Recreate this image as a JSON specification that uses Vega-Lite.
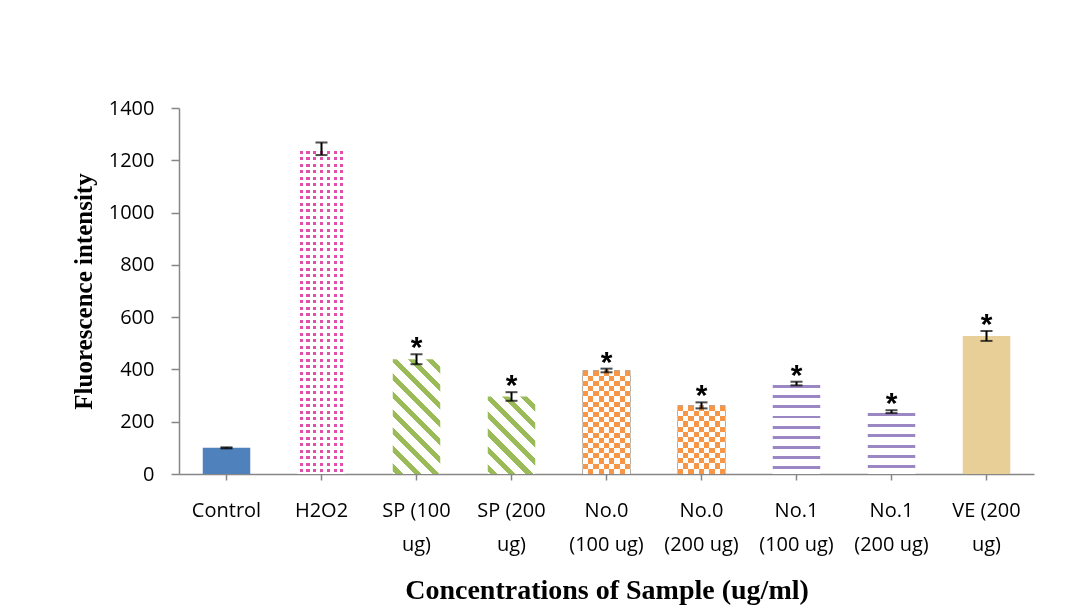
{
  "$schema": "https://vega.github.io/schema/vega-lite/v6.json",
  "width": 855,
  "height": 366,
  "autosize": {"type": "none"},
  "padding": {"left": 179, "top": 108, "right": 51, "bottom": 141},
  "background": "white",
  "config": {"view": {"stroke": null}, "font": "Open Sans"},
  "data": {
    "values": [
      {"cat": "Control", "value": 100, "lo": 98, "hi": 102, "sig": ""},
      {"cat": "H2O2", "value": 1243, "lo": 1220, "hi": 1268, "sig": ""},
      {"cat": "SP (100|ug)", "value": 439, "lo": 420, "hi": 458, "sig": "*"},
      {"cat": "SP (200|ug)", "value": 296, "lo": 280, "hi": 313, "sig": "*"},
      {"cat": "No.0|(100 ug)", "value": 396, "lo": 389, "hi": 403, "sig": "*"},
      {"cat": "No.0|(200 ug)", "value": 262, "lo": 251, "hi": 274, "sig": "*"},
      {"cat": "No.1|(100 ug)", "value": 346, "lo": 339, "hi": 353, "sig": "*"},
      {"cat": "No.1|(200 ug)", "value": 239, "lo": 233, "hi": 244, "sig": "*"},
      {"cat": "VE (200|ug)", "value": 528, "lo": 509, "hi": 547, "sig": "*"}
    ]
  },
  "encoding": {
    "x": {
      "field": "cat",
      "type": "nominal",
      "sort": null,
      "scale": {"paddingInner": 0.5, "paddingOuter": 0.25},
      "axis": {
        "title": "Concentrations of Sample (ug/ml)",
        "titleFont": "Liberation Serif",
        "titleFontSize": 28,
        "titleFontWeight": "bold",
        "titleColor": "#000",
        "titlePadding": 22,
        "labelExpr": "split(datum.value, '|')",
        "labelFont": "Open Sans",
        "labelFontSize": 20,
        "labelColor": "#000",
        "labelAngle": 0,
        "labelPadding": 20,
        "labelLineHeight": 34,
        "labelLimit": 300,
        "labelOverlap": false,
        "domainColor": "#868686",
        "domainWidth": 1.5,
        "tickColor": "#868686",
        "tickSize": 6,
        "tickWidth": 1.5
      }
    },
    "y": {
      "field": "value",
      "type": "quantitative",
      "scale": {"domain": [0, 1400]},
      "axis": {
        "title": "Fluorescence intensity",
        "titleFont": "Liberation Serif",
        "titleFontSize": 25,
        "titleFontWeight": "bold",
        "titleColor": "#000",
        "titlePadding": 12,
        "values": [0, 200, 400, 600, 800, 1000, 1200, 1400],
        "format": "d",
        "labelFont": "Open Sans",
        "labelFontSize": 20,
        "labelColor": "#000",
        "labelPadding": 17,
        "labelFlush": false,
        "domainColor": "#868686",
        "domainWidth": 1.5,
        "tickColor": "#868686",
        "tickSize": 8,
        "tickWidth": 1.5,
        "grid": false
      }
    }
  },
  "layer": [
    {
      "transform": [{"filter": {"field": "cat", "equal": "Control"}}],
      "mark": {"type": "bar", "fill": "#4f81bd"}
    },
    {
      "transform": [{"filter": {"field": "cat", "equal": "H2O2"}}],
      "mark": {
        "type": "bar",
        "fill": {
          "gradient": "linear", "x1": 0, "y1": 0, "x2": 1, "y2": 0,
          "stops": [
            {"offset": 0.04, "color": "#fff"}, {"offset": 0.04, "color": "#e050ab"}, {"offset": 0.105, "color": "#e050ab"}, {"offset": 0.105, "color": "#fff"},
            {"offset": 0.1829, "color": "#fff"}, {"offset": 0.1829, "color": "#e050ab"}, {"offset": 0.2479, "color": "#e050ab"}, {"offset": 0.2479, "color": "#fff"},
            {"offset": 0.3257, "color": "#fff"}, {"offset": 0.3257, "color": "#e050ab"}, {"offset": 0.3907, "color": "#e050ab"}, {"offset": 0.3907, "color": "#fff"},
            {"offset": 0.4686, "color": "#fff"}, {"offset": 0.4686, "color": "#e050ab"}, {"offset": 0.5336, "color": "#e050ab"}, {"offset": 0.5336, "color": "#fff"},
            {"offset": 0.6114, "color": "#fff"}, {"offset": 0.6114, "color": "#e050ab"}, {"offset": 0.6764, "color": "#e050ab"}, {"offset": 0.6764, "color": "#fff"},
            {"offset": 0.7543, "color": "#fff"}, {"offset": 0.7543, "color": "#e050ab"}, {"offset": 0.8193, "color": "#e050ab"}, {"offset": 0.8193, "color": "#fff"},
            {"offset": 0.8971, "color": "#fff"}, {"offset": 0.8971, "color": "#e050ab"}, {"offset": 0.9621, "color": "#e050ab"}, {"offset": 0.9621, "color": "#fff"}
          ]
        }
      }
    },
    {
      "transform": [{"filter": {"field": "cat", "equal": "H2O2"}}],
      "mark": {
        "type": "bar",
        "fill": {
          "gradient": "linear", "x1": 0, "y1": 0, "x2": 0, "y2": 1,
          "stops": [
            {"offset": 0.005, "color": "#fff"}, {"offset": 0.005, "color": "transparent"}, {"offset": 0.015, "color": "transparent"}, {"offset": 0.015, "color": "#fff"},
            {"offset": 0.025, "color": "#fff"}, {"offset": 0.025, "color": "transparent"}, {"offset": 0.035, "color": "transparent"}, {"offset": 0.035, "color": "#fff"},
            {"offset": 0.045, "color": "#fff"}, {"offset": 0.045, "color": "transparent"}, {"offset": 0.055, "color": "transparent"}, {"offset": 0.055, "color": "#fff"},
            {"offset": 0.065, "color": "#fff"}, {"offset": 0.065, "color": "transparent"}, {"offset": 0.075, "color": "transparent"}, {"offset": 0.075, "color": "#fff"},
            {"offset": 0.085, "color": "#fff"}, {"offset": 0.085, "color": "transparent"}, {"offset": 0.095, "color": "transparent"}, {"offset": 0.095, "color": "#fff"},
            {"offset": 0.105, "color": "#fff"}, {"offset": 0.105, "color": "transparent"}, {"offset": 0.115, "color": "transparent"}, {"offset": 0.115, "color": "#fff"},
            {"offset": 0.125, "color": "#fff"}, {"offset": 0.125, "color": "transparent"}, {"offset": 0.135, "color": "transparent"}, {"offset": 0.135, "color": "#fff"},
            {"offset": 0.145, "color": "#fff"}, {"offset": 0.145, "color": "transparent"}, {"offset": 0.155, "color": "transparent"}, {"offset": 0.155, "color": "#fff"},
            {"offset": 0.165, "color": "#fff"}, {"offset": 0.165, "color": "transparent"}, {"offset": 0.175, "color": "transparent"}, {"offset": 0.175, "color": "#fff"},
            {"offset": 0.185, "color": "#fff"}, {"offset": 0.185, "color": "transparent"}, {"offset": 0.195, "color": "transparent"}, {"offset": 0.195, "color": "#fff"},
            {"offset": 0.205, "color": "#fff"}, {"offset": 0.205, "color": "transparent"}, {"offset": 0.215, "color": "transparent"}, {"offset": 0.215, "color": "#fff"},
            {"offset": 0.225, "color": "#fff"}, {"offset": 0.225, "color": "transparent"}, {"offset": 0.235, "color": "transparent"}, {"offset": 0.235, "color": "#fff"},
            {"offset": 0.245, "color": "#fff"}, {"offset": 0.245, "color": "transparent"}, {"offset": 0.255, "color": "transparent"}, {"offset": 0.255, "color": "#fff"},
            {"offset": 0.265, "color": "#fff"}, {"offset": 0.265, "color": "transparent"}, {"offset": 0.275, "color": "transparent"}, {"offset": 0.275, "color": "#fff"},
            {"offset": 0.285, "color": "#fff"}, {"offset": 0.285, "color": "transparent"}, {"offset": 0.295, "color": "transparent"}, {"offset": 0.295, "color": "#fff"},
            {"offset": 0.305, "color": "#fff"}, {"offset": 0.305, "color": "transparent"}, {"offset": 0.315, "color": "transparent"}, {"offset": 0.315, "color": "#fff"},
            {"offset": 0.325, "color": "#fff"}, {"offset": 0.325, "color": "transparent"}, {"offset": 0.335, "color": "transparent"}, {"offset": 0.335, "color": "#fff"},
            {"offset": 0.345, "color": "#fff"}, {"offset": 0.345, "color": "transparent"}, {"offset": 0.355, "color": "transparent"}, {"offset": 0.355, "color": "#fff"},
            {"offset": 0.365, "color": "#fff"}, {"offset": 0.365, "color": "transparent"}, {"offset": 0.375, "color": "transparent"}, {"offset": 0.375, "color": "#fff"},
            {"offset": 0.385, "color": "#fff"}, {"offset": 0.385, "color": "transparent"}, {"offset": 0.395, "color": "transparent"}, {"offset": 0.395, "color": "#fff"},
            {"offset": 0.405, "color": "#fff"}, {"offset": 0.405, "color": "transparent"}, {"offset": 0.415, "color": "transparent"}, {"offset": 0.415, "color": "#fff"},
            {"offset": 0.425, "color": "#fff"}, {"offset": 0.425, "color": "transparent"}, {"offset": 0.435, "color": "transparent"}, {"offset": 0.435, "color": "#fff"},
            {"offset": 0.445, "color": "#fff"}, {"offset": 0.445, "color": "transparent"}, {"offset": 0.455, "color": "transparent"}, {"offset": 0.455, "color": "#fff"},
            {"offset": 0.465, "color": "#fff"}, {"offset": 0.465, "color": "transparent"}, {"offset": 0.475, "color": "transparent"}, {"offset": 0.475, "color": "#fff"},
            {"offset": 0.485, "color": "#fff"}, {"offset": 0.485, "color": "transparent"}, {"offset": 0.495, "color": "transparent"}, {"offset": 0.495, "color": "#fff"},
            {"offset": 0.505, "color": "#fff"}, {"offset": 0.505, "color": "transparent"}, {"offset": 0.515, "color": "transparent"}, {"offset": 0.515, "color": "#fff"},
            {"offset": 0.525, "color": "#fff"}, {"offset": 0.525, "color": "transparent"}, {"offset": 0.535, "color": "transparent"}, {"offset": 0.535, "color": "#fff"},
            {"offset": 0.545, "color": "#fff"}, {"offset": 0.545, "color": "transparent"}, {"offset": 0.555, "color": "transparent"}, {"offset": 0.555, "color": "#fff"},
            {"offset": 0.565, "color": "#fff"}, {"offset": 0.565, "color": "transparent"}, {"offset": 0.575, "color": "transparent"}, {"offset": 0.575, "color": "#fff"},
            {"offset": 0.585, "color": "#fff"}, {"offset": 0.585, "color": "transparent"}, {"offset": 0.595, "color": "transparent"}, {"offset": 0.595, "color": "#fff"},
            {"offset": 0.605, "color": "#fff"}, {"offset": 0.605, "color": "transparent"}, {"offset": 0.615, "color": "transparent"}, {"offset": 0.615, "color": "#fff"},
            {"offset": 0.625, "color": "#fff"}, {"offset": 0.625, "color": "transparent"}, {"offset": 0.635, "color": "transparent"}, {"offset": 0.635, "color": "#fff"},
            {"offset": 0.645, "color": "#fff"}, {"offset": 0.645, "color": "transparent"}, {"offset": 0.655, "color": "transparent"}, {"offset": 0.655, "color": "#fff"},
            {"offset": 0.665, "color": "#fff"}, {"offset": 0.665, "color": "transparent"}, {"offset": 0.675, "color": "transparent"}, {"offset": 0.675, "color": "#fff"},
            {"offset": 0.685, "color": "#fff"}, {"offset": 0.685, "color": "transparent"}, {"offset": 0.695, "color": "transparent"}, {"offset": 0.695, "color": "#fff"},
            {"offset": 0.705, "color": "#fff"}, {"offset": 0.705, "color": "transparent"}, {"offset": 0.715, "color": "transparent"}, {"offset": 0.715, "color": "#fff"},
            {"offset": 0.725, "color": "#fff"}, {"offset": 0.725, "color": "transparent"}, {"offset": 0.735, "color": "transparent"}, {"offset": 0.735, "color": "#fff"},
            {"offset": 0.745, "color": "#fff"}, {"offset": 0.745, "color": "transparent"}, {"offset": 0.755, "color": "transparent"}, {"offset": 0.755, "color": "#fff"},
            {"offset": 0.765, "color": "#fff"}, {"offset": 0.765, "color": "transparent"}, {"offset": 0.775, "color": "transparent"}, {"offset": 0.775, "color": "#fff"},
            {"offset": 0.785, "color": "#fff"}, {"offset": 0.785, "color": "transparent"}, {"offset": 0.795, "color": "transparent"}, {"offset": 0.795, "color": "#fff"},
            {"offset": 0.805, "color": "#fff"}, {"offset": 0.805, "color": "transparent"}, {"offset": 0.815, "color": "transparent"}, {"offset": 0.815, "color": "#fff"},
            {"offset": 0.825, "color": "#fff"}, {"offset": 0.825, "color": "transparent"}, {"offset": 0.835, "color": "transparent"}, {"offset": 0.835, "color": "#fff"},
            {"offset": 0.845, "color": "#fff"}, {"offset": 0.845, "color": "transparent"}, {"offset": 0.855, "color": "transparent"}, {"offset": 0.855, "color": "#fff"},
            {"offset": 0.865, "color": "#fff"}, {"offset": 0.865, "color": "transparent"}, {"offset": 0.875, "color": "transparent"}, {"offset": 0.875, "color": "#fff"},
            {"offset": 0.885, "color": "#fff"}, {"offset": 0.885, "color": "transparent"}, {"offset": 0.895, "color": "transparent"}, {"offset": 0.895, "color": "#fff"},
            {"offset": 0.905, "color": "#fff"}, {"offset": 0.905, "color": "transparent"}, {"offset": 0.915, "color": "transparent"}, {"offset": 0.915, "color": "#fff"},
            {"offset": 0.925, "color": "#fff"}, {"offset": 0.925, "color": "transparent"}, {"offset": 0.935, "color": "transparent"}, {"offset": 0.935, "color": "#fff"},
            {"offset": 0.945, "color": "#fff"}, {"offset": 0.945, "color": "transparent"}, {"offset": 0.955, "color": "transparent"}, {"offset": 0.955, "color": "#fff"},
            {"offset": 0.965, "color": "#fff"}, {"offset": 0.965, "color": "transparent"}, {"offset": 0.975, "color": "transparent"}, {"offset": 0.975, "color": "#fff"},
            {"offset": 0.985, "color": "#fff"}, {"offset": 0.985, "color": "transparent"}, {"offset": 0.995, "color": "transparent"}, {"offset": 0.995, "color": "#fff"}
          ]
        }
      }
    },
    {
      "transform": [{"filter": {"field": "cat", "equal": "SP (100|ug)"}}],
      "mark": {
        "type": "bar",
        "fill": {
          "gradient": "linear", "x1": 0, "y1": 1, "x2": 0.4995, "y2": -0.2071,
          "stops": [
            {"offset": 0.02, "color": "#fff"}, {"offset": 0.02, "color": "#9bbb59"}, {"offset": 0.065, "color": "#9bbb59"}, {"offset": 0.065, "color": "#fff"},
            {"offset": 0.1311, "color": "#fff"}, {"offset": 0.1311, "color": "#9bbb59"}, {"offset": 0.1761, "color": "#9bbb59"}, {"offset": 0.1761, "color": "#fff"},
            {"offset": 0.2422, "color": "#fff"}, {"offset": 0.2422, "color": "#9bbb59"}, {"offset": 0.2872, "color": "#9bbb59"}, {"offset": 0.2872, "color": "#fff"},
            {"offset": 0.3533, "color": "#fff"}, {"offset": 0.3533, "color": "#9bbb59"}, {"offset": 0.3983, "color": "#9bbb59"}, {"offset": 0.3983, "color": "#fff"},
            {"offset": 0.4644, "color": "#fff"}, {"offset": 0.4644, "color": "#9bbb59"}, {"offset": 0.5094, "color": "#9bbb59"}, {"offset": 0.5094, "color": "#fff"},
            {"offset": 0.5756, "color": "#fff"}, {"offset": 0.5756, "color": "#9bbb59"}, {"offset": 0.6206, "color": "#9bbb59"}, {"offset": 0.6206, "color": "#fff"},
            {"offset": 0.6867, "color": "#fff"}, {"offset": 0.6867, "color": "#9bbb59"}, {"offset": 0.7317, "color": "#9bbb59"}, {"offset": 0.7317, "color": "#fff"},
            {"offset": 0.7978, "color": "#fff"}, {"offset": 0.7978, "color": "#9bbb59"}, {"offset": 0.8428, "color": "#9bbb59"}, {"offset": 0.8428, "color": "#fff"},
            {"offset": 0.9089, "color": "#fff"}, {"offset": 0.9089, "color": "#9bbb59"}, {"offset": 0.9539, "color": "#9bbb59"}, {"offset": 0.9539, "color": "#fff"}
          ]
        }
      }
    },
    {
      "transform": [{"filter": {"field": "cat", "equal": "SP (200|ug)"}}],
      "mark": {
        "type": "bar",
        "fill": {
          "gradient": "linear", "x1": 0, "y1": 1, "x2": 0.7194, "y2": -0.1722,
          "stops": [
            {"offset": 0.02, "color": "#fff"}, {"offset": 0.02, "color": "#9bbb59"}, {"offset": 0.077, "color": "#9bbb59"}, {"offset": 0.077, "color": "#fff"},
            {"offset": 0.1629, "color": "#fff"}, {"offset": 0.1629, "color": "#9bbb59"}, {"offset": 0.2199, "color": "#9bbb59"}, {"offset": 0.2199, "color": "#fff"},
            {"offset": 0.3057, "color": "#fff"}, {"offset": 0.3057, "color": "#9bbb59"}, {"offset": 0.3627, "color": "#9bbb59"}, {"offset": 0.3627, "color": "#fff"},
            {"offset": 0.4486, "color": "#fff"}, {"offset": 0.4486, "color": "#9bbb59"}, {"offset": 0.5056, "color": "#9bbb59"}, {"offset": 0.5056, "color": "#fff"},
            {"offset": 0.5914, "color": "#fff"}, {"offset": 0.5914, "color": "#9bbb59"}, {"offset": 0.6484, "color": "#9bbb59"}, {"offset": 0.6484, "color": "#fff"},
            {"offset": 0.7343, "color": "#fff"}, {"offset": 0.7343, "color": "#9bbb59"}, {"offset": 0.7913, "color": "#9bbb59"}, {"offset": 0.7913, "color": "#fff"},
            {"offset": 0.8771, "color": "#fff"}, {"offset": 0.8771, "color": "#9bbb59"}, {"offset": 0.9341, "color": "#9bbb59"}, {"offset": 0.9341, "color": "#fff"}
          ]
        }
      }
    },
    {
      "transform": [{"filter": {"field": "cat", "oneOf": ["No.0|(100 ug)", "No.0|(200 ug)"]}}],
      "mark": {
        "type": "bar",
        "fill": {
          "gradient": "linear", "x1": 0, "y1": 0, "x2": 1, "y2": 0,
          "stops": [
            {"offset": 0, "color": "#000"}, {"offset": 0.1111, "color": "#000"}, {"offset": 0.1111, "color": "#fff"}, {"offset": 0.2222, "color": "#fff"},
            {"offset": 0.2222, "color": "#000"}, {"offset": 0.3333, "color": "#000"}, {"offset": 0.3333, "color": "#fff"}, {"offset": 0.4444, "color": "#fff"},
            {"offset": 0.4444, "color": "#000"}, {"offset": 0.5556, "color": "#000"}, {"offset": 0.5556, "color": "#fff"}, {"offset": 0.6667, "color": "#fff"},
            {"offset": 0.6667, "color": "#000"}, {"offset": 0.7778, "color": "#000"}, {"offset": 0.7778, "color": "#fff"}, {"offset": 0.8889, "color": "#fff"},
            {"offset": 0.8889, "color": "#000"}, {"offset": 1, "color": "#000"}
          ]
        }
      }
    },
    {
      "transform": [{"filter": {"field": "cat", "equal": "No.0|(100 ug)"}}],
      "mark": {
        "type": "bar",
        "blend": "difference",
        "fill": {
          "gradient": "linear", "x1": 0, "y1": 0, "x2": 0, "y2": 1,
          "stops": [
            {"offset": 0, "color": "#000"}, {"offset": 0.05, "color": "#000"}, {"offset": 0.05, "color": "#fff"}, {"offset": 0.1, "color": "#fff"},
            {"offset": 0.1, "color": "#000"}, {"offset": 0.15, "color": "#000"}, {"offset": 0.15, "color": "#fff"}, {"offset": 0.2, "color": "#fff"},
            {"offset": 0.2, "color": "#000"}, {"offset": 0.25, "color": "#000"}, {"offset": 0.25, "color": "#fff"}, {"offset": 0.3, "color": "#fff"},
            {"offset": 0.3, "color": "#000"}, {"offset": 0.35, "color": "#000"}, {"offset": 0.35, "color": "#fff"}, {"offset": 0.4, "color": "#fff"},
            {"offset": 0.4, "color": "#000"}, {"offset": 0.45, "color": "#000"}, {"offset": 0.45, "color": "#fff"}, {"offset": 0.5, "color": "#fff"},
            {"offset": 0.5, "color": "#000"}, {"offset": 0.55, "color": "#000"}, {"offset": 0.55, "color": "#fff"}, {"offset": 0.6, "color": "#fff"},
            {"offset": 0.6, "color": "#000"}, {"offset": 0.65, "color": "#000"}, {"offset": 0.65, "color": "#fff"}, {"offset": 0.7, "color": "#fff"},
            {"offset": 0.7, "color": "#000"}, {"offset": 0.75, "color": "#000"}, {"offset": 0.75, "color": "#fff"}, {"offset": 0.8, "color": "#fff"},
            {"offset": 0.8, "color": "#000"}, {"offset": 0.85, "color": "#000"}, {"offset": 0.85, "color": "#fff"}, {"offset": 0.9, "color": "#fff"},
            {"offset": 0.9, "color": "#000"}, {"offset": 0.95, "color": "#000"}, {"offset": 0.95, "color": "#fff"}, {"offset": 1, "color": "#fff"}
          ]
        }
      }
    },
    {
      "transform": [{"filter": {"field": "cat", "equal": "No.0|(200 ug)"}}],
      "mark": {
        "type": "bar",
        "blend": "difference",
        "fill": {
          "gradient": "linear", "x1": 0, "y1": 0, "x2": 0, "y2": 1,
          "stops": [
            {"offset": 0, "color": "#000"}, {"offset": 0.0769, "color": "#000"}, {"offset": 0.0769, "color": "#fff"}, {"offset": 0.1538, "color": "#fff"},
            {"offset": 0.1538, "color": "#000"}, {"offset": 0.2308, "color": "#000"}, {"offset": 0.2308, "color": "#fff"}, {"offset": 0.3077, "color": "#fff"},
            {"offset": 0.3077, "color": "#000"}, {"offset": 0.3846, "color": "#000"}, {"offset": 0.3846, "color": "#fff"}, {"offset": 0.4615, "color": "#fff"},
            {"offset": 0.4615, "color": "#000"}, {"offset": 0.5385, "color": "#000"}, {"offset": 0.5385, "color": "#fff"}, {"offset": 0.6154, "color": "#fff"},
            {"offset": 0.6154, "color": "#000"}, {"offset": 0.6923, "color": "#000"}, {"offset": 0.6923, "color": "#fff"}, {"offset": 0.7692, "color": "#fff"},
            {"offset": 0.7692, "color": "#000"}, {"offset": 0.8462, "color": "#000"}, {"offset": 0.8462, "color": "#fff"}, {"offset": 0.9231, "color": "#fff"},
            {"offset": 0.9231, "color": "#000"}, {"offset": 1, "color": "#000"}
          ]
        }
      }
    },
    {
      "transform": [{"filter": {"field": "cat", "oneOf": ["No.0|(100 ug)", "No.0|(200 ug)"]}}],
      "mark": {"type": "bar", "blend": "screen", "fill": "#f79646"}
    },
    {
      "transform": [{"filter": {"field": "cat", "equal": "No.1|(100 ug)"}}],
      "mark": {
        "type": "bar",
        "fill": {
          "gradient": "linear", "x1": 0, "y1": 0, "x2": 0, "y2": 1,
          "stops": [
            {"offset": 0.02, "color": "#fff"}, {"offset": 0.02, "color": "#9b87c4"}, {"offset": 0.053, "color": "#9b87c4"}, {"offset": 0.053, "color": "#fff"},
            {"offset": 0.1311, "color": "#fff"}, {"offset": 0.1311, "color": "#9b87c4"}, {"offset": 0.1641, "color": "#9b87c4"}, {"offset": 0.1641, "color": "#fff"},
            {"offset": 0.2422, "color": "#fff"}, {"offset": 0.2422, "color": "#9b87c4"}, {"offset": 0.2752, "color": "#9b87c4"}, {"offset": 0.2752, "color": "#fff"},
            {"offset": 0.3533, "color": "#fff"}, {"offset": 0.3533, "color": "#9b87c4"}, {"offset": 0.3863, "color": "#9b87c4"}, {"offset": 0.3863, "color": "#fff"},
            {"offset": 0.4644, "color": "#fff"}, {"offset": 0.4644, "color": "#9b87c4"}, {"offset": 0.4974, "color": "#9b87c4"}, {"offset": 0.4974, "color": "#fff"},
            {"offset": 0.5756, "color": "#fff"}, {"offset": 0.5756, "color": "#9b87c4"}, {"offset": 0.6086, "color": "#9b87c4"}, {"offset": 0.6086, "color": "#fff"},
            {"offset": 0.6867, "color": "#fff"}, {"offset": 0.6867, "color": "#9b87c4"}, {"offset": 0.7197, "color": "#9b87c4"}, {"offset": 0.7197, "color": "#fff"},
            {"offset": 0.7978, "color": "#fff"}, {"offset": 0.7978, "color": "#9b87c4"}, {"offset": 0.8308, "color": "#9b87c4"}, {"offset": 0.8308, "color": "#fff"},
            {"offset": 0.9089, "color": "#fff"}, {"offset": 0.9089, "color": "#9b87c4"}, {"offset": 0.9419, "color": "#9b87c4"}, {"offset": 0.9419, "color": "#fff"}
          ]
        }
      }
    },
    {
      "transform": [{"filter": {"field": "cat", "equal": "No.1|(200 ug)"}}],
      "mark": {
        "type": "bar",
        "fill": {
          "gradient": "linear", "x1": 0, "y1": 0, "x2": 0, "y2": 1,
          "stops": [
            {"offset": 0.03, "color": "#fff"}, {"offset": 0.03, "color": "#9b87c4"}, {"offset": 0.078, "color": "#9b87c4"}, {"offset": 0.078, "color": "#fff"},
            {"offset": 0.1967, "color": "#fff"}, {"offset": 0.1967, "color": "#9b87c4"}, {"offset": 0.2447, "color": "#9b87c4"}, {"offset": 0.2447, "color": "#fff"},
            {"offset": 0.3633, "color": "#fff"}, {"offset": 0.3633, "color": "#9b87c4"}, {"offset": 0.4113, "color": "#9b87c4"}, {"offset": 0.4113, "color": "#fff"},
            {"offset": 0.53, "color": "#fff"}, {"offset": 0.53, "color": "#9b87c4"}, {"offset": 0.578, "color": "#9b87c4"}, {"offset": 0.578, "color": "#fff"},
            {"offset": 0.6967, "color": "#fff"}, {"offset": 0.6967, "color": "#9b87c4"}, {"offset": 0.7447, "color": "#9b87c4"}, {"offset": 0.7447, "color": "#fff"},
            {"offset": 0.8633, "color": "#fff"}, {"offset": 0.8633, "color": "#9b87c4"}, {"offset": 0.9113, "color": "#9b87c4"}, {"offset": 0.9113, "color": "#fff"}
          ]
        }
      }
    },
    {
      "transform": [{"filter": {"field": "cat", "equal": "VE (200|ug)"}}],
      "mark": {"type": "bar", "fill": "#e8cf97"}
    },
    {
      "mark": {"type": "rule", "color": "#000", "strokeWidth": 2},
      "encoding": {
        "y": {"field": "lo", "type": "quantitative"},
        "y2": {"field": "hi"}
      }
    },
    {
      "mark": {"type": "tick", "color": "#000", "size": 12, "thickness": 2},
      "encoding": {"y": {"field": "lo", "type": "quantitative"}}
    },
    {
      "mark": {"type": "tick", "color": "#000", "size": 12, "thickness": 2},
      "encoding": {"y": {"field": "hi", "type": "quantitative"}}
    },
    {
      "mark": {"type": "text", "font": "Liberation Sans", "fontWeight": "bold", "fontSize": 30, "baseline": "alphabetic", "dy": 3, "color": "#000"},
      "encoding": {
        "y": {"field": "hi", "type": "quantitative"},
        "text": {"field": "sig"}
      }
    }
  ]
}
